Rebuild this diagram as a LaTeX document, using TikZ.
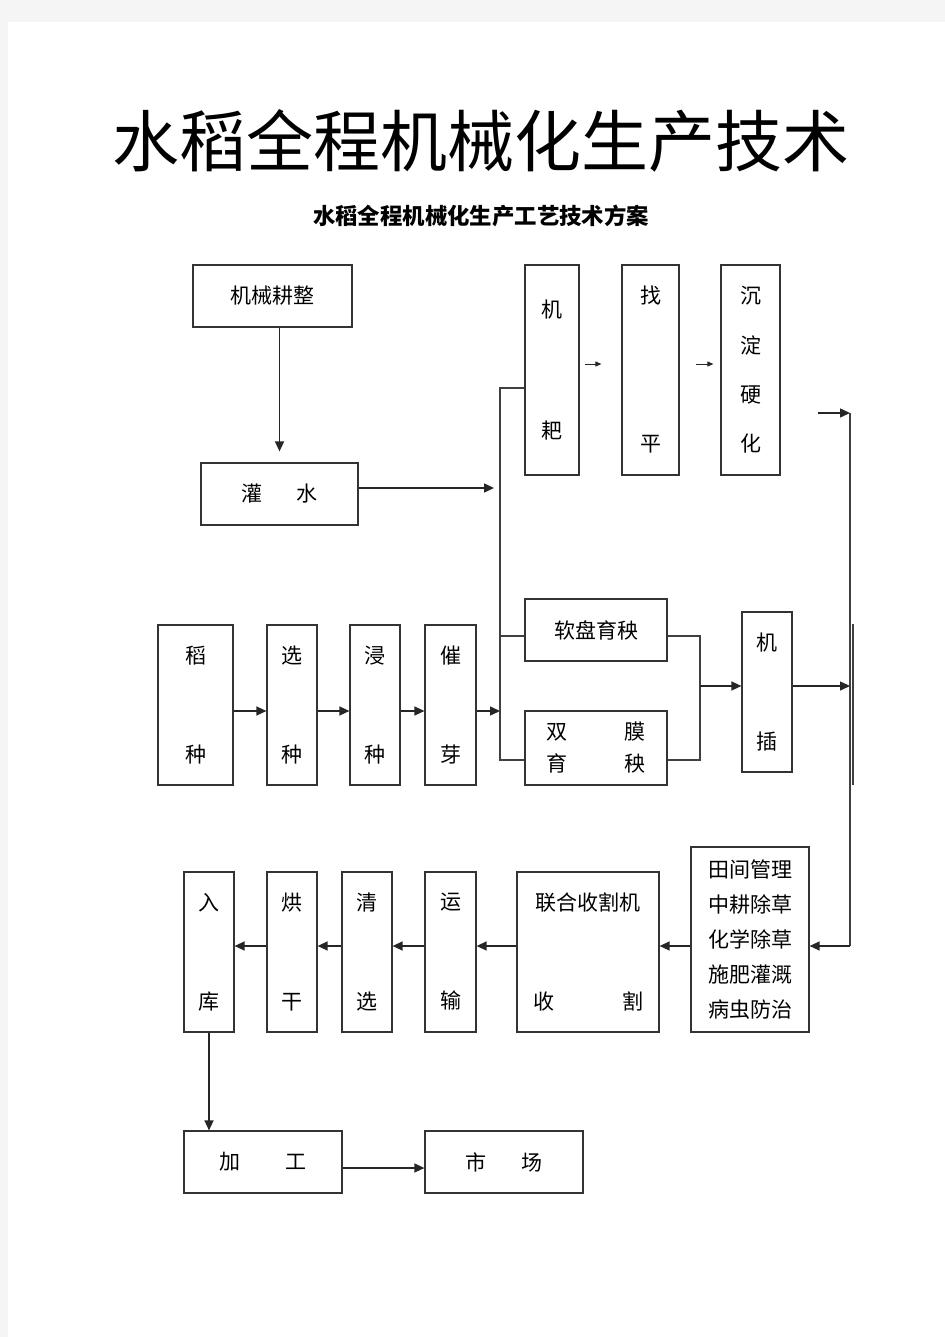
\documentclass[tikz,border=0pt]{standalone}
\usepackage{fontspec}
\setmainfont{Noto Sans CJK SC}
\usetikzlibrary{positioning, calc, arrows.meta}

\begin{document}
\begin{tikzpicture}[x=0.5pt, y=-0.5pt, font=\fontsize{10.5}{12}\selectfont]
        % Define block styles
        \tikzstyle{block} = [rectangle, draw=black!80, line width=0.6pt, inner sep=0pt, align=center]
        \tikzstyle{arrow} = [draw=black!85, line width=0.7pt, -{Triangle[length=5pt, width=4.5pt]}]
        \tikzstyle{tinyarrow} = [draw=black!85, line width=0.4pt, -{Triangle[length=3pt, width=2.5pt]}]
        \tikzstyle{wire} = [draw=black!75, line width=0.6pt]

        % Page
        \useasboundingbox (0,0) rectangle (945,1337);
        \fill[black!4] (0,0) rectangle (945,1337);
        \fill[white] (8,22) rectangle (945,1337);

        % Titles
        \node[font=\fontsize{33.5}{40}\selectfont] (title) at (481,141) {水稻全程机械化生产技术};
        \node[font=\fontsize{11.2}{14}\selectfont\bfseries] (subtitle) at (481,216) {水稻全程机械化生产工艺技术方案};

        % Place nodes: field preparation
        \node [block, minimum width=79.5pt, minimum height=31pt] (gengzheng) at (272.5,296) {机械耕整};
        \node [block, minimum width=78.5pt, minimum height=31pt] (guanshui) at (279.5,494) {灌\hspace{17.5pt}水};
        \node [block, minimum width=27pt, minimum height=105pt] (jiba) at (552,370) {机\\[48.5pt]耙};
        \node [block, minimum width=28.5pt, minimum height=105pt] (zhaoping) at (650.5,370) {找\\[62pt]平};
        \node [block, minimum width=29.5pt, minimum height=105pt] (chendian) at (750.5,370) {沉\\[12.7pt]淀\\[12.7pt]硬\\[12.7pt]化};

        % Place nodes: seedlings
        \node [block, minimum width=37.5pt, minimum height=80pt] (daozhong) at (195.5,705) {稻\\[37.5pt]种};
        \node [block, minimum width=25pt, minimum height=80pt] (xuanzhong) at (292,705) {选\\[37.5pt]种};
        \node [block, minimum width=25pt, minimum height=80pt] (jinzhong) at (375,705) {浸\\[37.5pt]种};
        \node [block, minimum width=25.5pt, minimum height=80pt] (cuiya) at (450.5,705) {催\\[37.5pt]芽};
        \node [block, minimum width=71pt, minimum height=31pt] (ruanpan) at (596,630) {软盘育秧};
        \node [block, minimum width=71pt, minimum height=37pt] (shuangmo) at (596,748) {双\hspace{28.5pt}膜\\[4pt]育\hspace{28.5pt}秧};
        \node [block, minimum width=25pt, minimum height=80pt] (jicha) at (767,692) {机\\[37.5pt]插};

        % Place nodes: management and harvest
        \node [block, minimum width=59pt, minimum height=92.5pt] (tianjian) at (750,939.5) {田间管理\\[5.5pt]中耕除草\\[5.5pt]化学除草\\[5.5pt]施肥灌溉\\[5.5pt]病虫防治};
        \node [block, minimum width=71pt, minimum height=80pt] (shouge) at (588,952) {联合收割机\\[37.5pt]收\hspace{34pt}割};
        \node [block, minimum width=25.5pt, minimum height=80pt] (yunshu) at (450.5,952) {运\\[37.5pt]输};
        \node [block, minimum width=25pt, minimum height=80pt] (qingxuan) at (367,952) {清\\[37.5pt]选};
        \node [block, minimum width=25pt, minimum height=80pt] (honggan) at (292,952) {烘\\[37.5pt]干};
        \node [block, minimum width=25pt, minimum height=80pt] (ruku) at (209,952) {入\\[37.5pt]库};
        \node [block, minimum width=79pt, minimum height=31pt] (jiagong) at (263,1162) {加\hspace{22.5pt}工};
        \node [block, minimum width=79pt, minimum height=31pt] (shichang) at (504,1162) {市\hspace{17.5pt}场};

        % Junction points
        \coordinate (busT) at (500,388);
        \coordinate (busB) at (500,760);
        \coordinate (merge) at (700,686);
        \coordinate (busR) at (850,413);
        \coordinate (busRB) at (850,946);

        % Draw connections as arrows
        \draw [arrow, shorten >=5.5pt] (guanshui.north |- gengzheng.south) -- (guanshui.north);
        \draw [arrow, shorten >=3pt] ([yshift=3pt]guanshui.east) -- ([yshift=3pt]guanshui.east -| busT);
        \draw [wire] (jiba.west |- busT) -- (busT) -- (busB) -- (shuangmo.west |- busB);
        \draw [wire] ([yshift=-3pt]ruanpan.west -| busT) -- ([yshift=-3pt]ruanpan.west);
        \draw [tinyarrow, shorten <=2.5pt, shorten >=10pt] ([yshift=3pt]jiba.east) -- ([yshift=3pt]zhaoping.west);
        \draw [tinyarrow, shorten <=8pt, shorten >=3.5pt] ([yshift=3pt]zhaoping.east) -- ([yshift=3pt]chendian.west);
        \draw [arrow, shorten <=18.5pt] (chendian.east |- busR) -- (busR);
        \draw [wire] (busR) -- (busRB);
        \draw [wire] (853,624) -- (853,785);

        % Seedling line
        \draw [arrow] ([yshift=-3pt]daozhong.east) -- ([yshift=-3pt]xuanzhong.west);
        \draw [arrow] ([yshift=-3pt]xuanzhong.east) -- ([yshift=-3pt]jinzhong.west);
        \draw [arrow] ([yshift=-3pt]jinzhong.east) -- ([yshift=-3pt]cuiya.west);
        \draw [arrow] ([yshift=-3pt]cuiya.east) -- ([yshift=-3pt]cuiya.east -| busT);
        \draw [wire] ([yshift=-3pt]ruanpan.east) -| (merge) |- ([yshift=-6pt]shuangmo.east);
        \draw [arrow] (merge) -- (merge -| jicha.west);
        \draw [arrow] ([yshift=3pt]jicha.east) -- ([yshift=3pt]jicha.east -| busR);

        % Harvest line
        \draw [arrow] (busRB) -- (busRB -| tianjian.east);
        \draw [arrow] ([yshift=3pt]tianjian.west |- shouge.east) -- ([yshift=3pt]shouge.east);
        \draw [arrow] ([yshift=3pt]shouge.west) -- ([yshift=3pt]yunshu.east);
        \draw [arrow] ([yshift=3pt]yunshu.west) -- ([yshift=3pt]qingxuan.east);
        \draw [arrow] ([yshift=3pt]qingxuan.west) -- ([yshift=3pt]honggan.east);
        \draw [arrow] ([yshift=3pt]honggan.west) -- ([yshift=3pt]ruku.east);
        \draw [arrow] (ruku.south) -- (ruku.south |- jiagong.north);
        \draw [arrow] ([yshift=-3pt]jiagong.east) -- ([yshift=-3pt]shichang.west);
    \end{tikzpicture}
\end{document}
